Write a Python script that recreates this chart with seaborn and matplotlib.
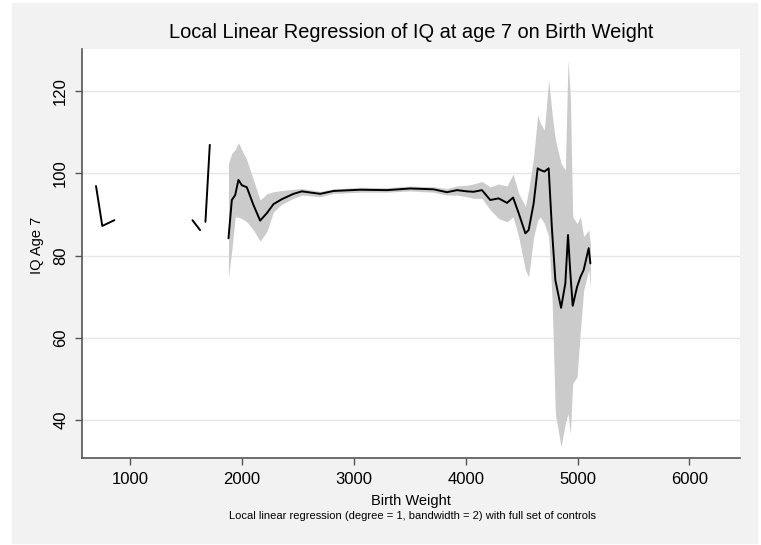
import numpy as np
import pandas as pd
import seaborn as sns
import matplotlib.pyplot as plt
from matplotlib.patches import Rectangle

# local linear fit (birth weight in grams, IQ at age 7) + confidence band
bw = [1880, 1910, 1940, 1969, 1999, 2044, 2103, 2163, 2223, 2282,
      2357, 2461, 2536, 2700, 2819, 3058, 3297, 3505, 3713, 3833,
      3923, 4012, 4071, 4146, 4220, 4295, 4370, 4424, 4474, 4534,
      4563, 4608, 4644, 4668, 4704, 4742, 4772, 4802, 4853, 4891,
      4915, 4936, 4957, 4996, 5026, 5055, 5100, 5115]
iq = [84.2, 93.5, 94.7, 98.4, 97.1, 96.6, 92.3, 88.5, 90.3, 92.5,
      93.7, 95.0, 95.6, 95.0, 95.7, 96.0, 95.9, 96.3, 96.1, 95.4,
      95.9, 95.6, 95.5, 95.9, 93.5, 93.9, 92.8, 94.1, 90.3, 85.4,
      86.2, 92.7, 101.2, 100.8, 100.4, 101.2, 86.2, 74.0, 67.3, 73.2,
      85.0, 75.7, 67.8, 72.4, 74.8, 76.5, 81.8, 78.1]
ci_hi = [102.4, 104.9, 105.7, 107.4, 105.7, 103.2, 98.4, 93.5, 95.0, 95.5,
         95.8, 96.1, 96.3, 95.6, 96.2, 96.6, 96.5, 96.9, 96.7, 96.3,
         96.9, 97.1, 97.4, 98.0, 96.7, 97.4, 96.9, 99.8, 95.1, 91.9,
         95.9, 104.0, 114.2, 112.1, 110.5, 122.7, 114.6, 108.1, 102.4, 100.8,
         127.5, 118.6, 89.4, 87.8, 89.4, 84.6, 86.2, 83.0]
ci_lo = [74.8, 81.3, 89.4, 89.3, 89.0, 88.2, 86.2, 83.5, 85.8, 90.6,
         92.5, 93.9, 94.7, 94.3, 95.1, 95.4, 95.4, 95.7, 95.4, 94.7,
         94.7, 94.3, 93.9, 93.9, 91.1, 89.0, 88.2, 89.4, 84.6, 76.5,
         74.8, 84.6, 88.6, 89.4, 87.8, 84.6, 70.0, 41.6, 33.5, 39.2,
         41.6, 36.8, 48.9, 50.5, 61.9, 71.6, 76.5, 72.4]

# isolated pieces of the fit at very low birth weight (no band)
seg_bw = [696, 752, 860, 1558, 1626, 1674, 1713]
seg_iq = [96.9, 87.2, 88.6, 88.6, 86.2, 88.2, 106.9]
seg_id = [1, 1, 1, 2, 2, 3, 3]

lines = pd.concat([
    pd.DataFrame({'bw': bw, 'iq': iq, 'piece': 0}),
    pd.DataFrame({'bw': seg_bw, 'iq': seg_iq, 'piece': seg_id}),
], ignore_index=True)

sns.set_theme(style='white')
plt.rcParams['font.family'] = ['Liberation Sans', 'DejaVu Sans']

fig = plt.figure(figsize=(7.61, 5.45), dpi=100)
fig.patch.set_facecolor('white')
fig.patches.append(Rectangle((12 / 761, 2 / 545), 745 / 761, 540 / 545,
                             transform=fig.transFigure, color='#f2f2f2', zorder=-10))
ax = fig.add_axes([0.1078, 0.1596, 0.8647, 0.7505])
ax.set_facecolor('white')

ax.fill_between(bw, ci_lo, ci_hi, color='#cbcbcb', lw=0, zorder=2)
sns.lineplot(data=lines, x='bw', y='iq', units='piece', estimator=None,
             sort=False, color='black', lw=1.4, ax=ax, zorder=3)

ax.set_xlim(571, 6453)
ax.set_ylim(30.8, 130.2)
ax.set_xticks([1000, 2000, 3000, 4000, 5000, 6000])
ax.set_yticks([40, 60, 80, 100, 120])
ax.yaxis.grid(True, color='#e6e6e6', lw=1.0)
ax.set_axisbelow(True)

for s in ['top', 'right']:
    ax.spines[s].set_visible(False)
for s in ['left', 'bottom']:
    ax.spines[s].set_color('#555555')
    ax.spines[s].set_linewidth(1.2)

ax.tick_params(axis='both', direction='out', length=5, width=1, color='#555555',
               labelsize=12, pad=5, labelcolor='black')
ax.tick_params(axis='x', bottom=True)
ax.tick_params(axis='y', left=True)
plt.setp(ax.get_yticklabels(), rotation=90, va='center')

ax.set_xlabel('Birth Weight', fontsize=10.5, color='black')
ax.set_ylabel('IQ Age 7', fontsize=10.5, color='black')
ax.xaxis.set_label_coords(0.5, -0.088)
ax.yaxis.set_label_coords(-0.058, 0.52)

ax.set_title('Local Linear Regression of IQ at age 7 on Birth Weight',
             fontsize=14.4, color='black', pad=8)
fig.text(0.5425, 0.053,
         'Local linear regression (degree = 1, bandwidth = 2) with full set of controls',
         ha='center', va='center', fontsize=8, color='black')

fig.savefig('out.png', dpi=100, facecolor=fig.get_facecolor())
